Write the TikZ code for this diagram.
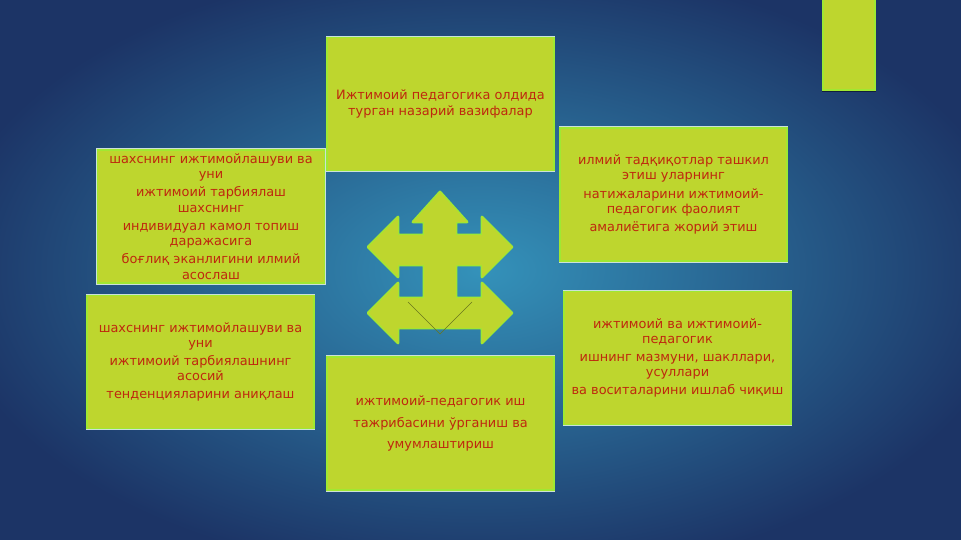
\documentclass[tikz,border=0pt]{standalone}
\usepackage{fontspec}
\setmainfont{DejaVu Sans}
\usetikzlibrary{positioning}
\definecolor{leaf}{RGB}{190,214,46}
\definecolor{leafedge}{RGB}{160,232,50}
\definecolor{rim}{RGB}{205,225,215}
\definecolor{ink}{RGB}{190,40,14}
\definecolor{bginner}{RGB}{52,146,186}
\definecolor{bgouter}{RGB}{28,52,102}
\definecolor{olive}{RGB}{105,118,30}

\begin{document}
\begin{tikzpicture}[x=0.03cm, y=-0.03cm,
    task/.style={rectangle, fill=leaf, draw=leafedge, line width=1.2pt,
                 preaction={draw=rim, line width=2.4pt},
                 minimum width=6.8cm, minimum height=4.0cm, align=center,
                 text=ink, font=\fontsize{11}{13}\selectfont, inner sep=2pt},
    tab/.style={rectangle, fill=leaf, draw=leafedge, line width=1.4pt,
                preaction={draw=bgouter!60!black, line width=2.6pt},
                minimum width=1.55cm, minimum height=3cm}
  ]
    \useasboundingbox (0,0) rectangle (961,540);
    \shade[inner color=bginner, outer color=bgouter] (-60,-40) rectangle (1021,580);

    \node[tab] (tab) at (849,40) {};

    \node[task] (goal) at (440.5,104) {Ижтимоий педагогика олдида\\турган назарий вазифалар};
    \node[task] (theory) at (211,216.5) {шахснинг ижтимойлашуви ва\\уни\\[2.5pt]
        ижтимоий тарбиялаш\\шахснинг\\[2.5pt]
        индивидуал камол топиш\\даражасига\\[2.5pt]
        боғлиқ эканлигини илмий\\асослаш};
    \node[task] (research) at (673.5,194.5) {илмий тадқиқотлар ташкил\\этиш уларнинг\\[2.5pt]
        натижаларини ижтимоий-\\педагогик фаолият\\[2.5pt]
        амалиётига жорий этиш};
    \node[task] (trend) at (200.5,362) {шахснинг ижтимойлашуви ва\\уни\\[2.5pt]
        ижтимоий тарбиялашнинг\\асосий\\[2.5pt]
        тенденцияларини аниқлаш};
    \node[task] (content) at (677.5,358) {ижтимоий ва ижтимоий-\\педагогик\\[2.5pt]
        ишнинг мазмуни, шакллари,\\усуллари\\[2.5pt]
        ва воситаларини ишлаб чиқиш};
    \node[task] (practice) at (440.5,423.5) {ижтимоий-педагогик иш\\[5pt]
        тажрибасини ўрганиш ва\\[5pt]
        умумлаштириш};

    % central arrows
    \path[fill=leaf, preaction={draw=leafedge, line width=2.4pt, line join=round}]
        (368,247) -- (398,217) -- (398,235) -- (482,235) -- (482,217) -- (512,247)
        -- (482,277) -- (482,265) -- (398,265) -- (398,277) -- cycle
        (368,313) -- (398,283) -- (398,298) -- (482,298) -- (482,283) -- (512,313)
        -- (482,343) -- (482,328) -- (398,328) -- (398,343) -- cycle
        (440,192) -- (467,222) -- (456,222) -- (456,300) -- (424,300)
        -- (424,222) -- (413,222) -- cycle;
    \draw[olive, line width=0.5pt] (408,302) -- (440,334) -- (472,302);
\end{tikzpicture}
\end{document}
